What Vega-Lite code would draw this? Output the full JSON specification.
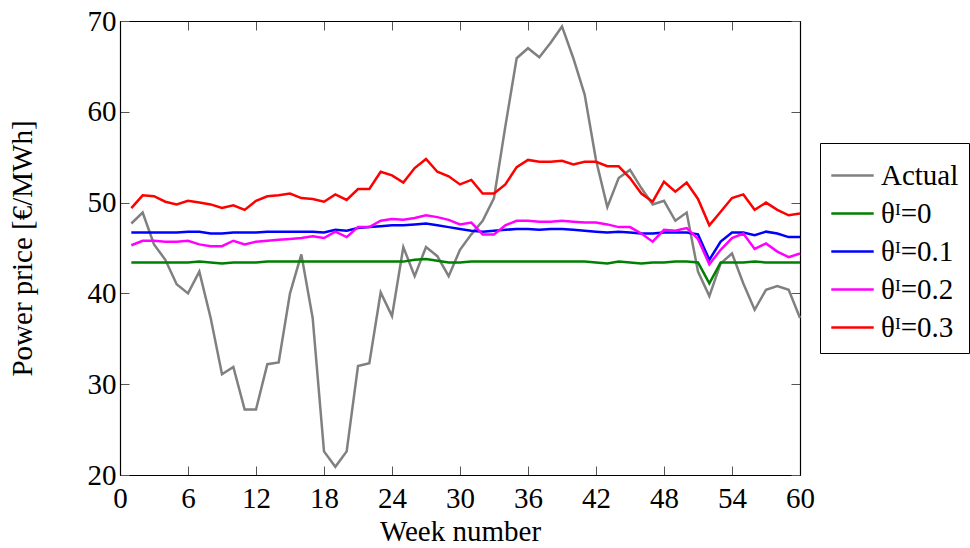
{
  "$schema": "https://vega.github.io/schema/vega-lite/v6.json",
  "width": 680,
  "height": 454,
  "autosize": {"type": "none"},
  "padding": {"left": 120, "top": 21, "right": 170, "bottom": 73},
  "background": "white",
  "config": {
    "font": "Liberation Serif",
    "view": {"stroke": "black", "strokeWidth": 1},
    "axis": {"grid": false, "domainColor": "black", "domainWidth": 1.2, "tickColor": "#555", "labelColor": "black", "titleColor": "black", "labelFont": "Liberation Serif", "titleFont": "Liberation Serif", "titleFontWeight": "normal", "labelFontSize": 29, "titleFontSize": 29, "labelFlush": false}
  },
  "data": {"values": [
    {"week":1,"Actual":47.7,"t0":43.4,"t1":46.7,"t2":45.3,"t3":49.4},
    {"week":2,"Actual":48.9,"t0":43.4,"t1":46.7,"t2":45.8,"t3":50.8},
    {"week":3,"Actual":45.4,"t0":43.4,"t1":46.7,"t2":45.8,"t3":50.7},
    {"week":4,"Actual":43.7,"t0":43.4,"t1":46.7,"t2":45.7,"t3":50.1},
    {"week":5,"Actual":41.0,"t0":43.4,"t1":46.7,"t2":45.7,"t3":49.8},
    {"week":6,"Actual":40.0,"t0":43.4,"t1":46.8,"t2":45.8,"t3":50.2},
    {"week":7,"Actual":42.4,"t0":43.5,"t1":46.8,"t2":45.4,"t3":50.0},
    {"week":8,"Actual":37.3,"t0":43.4,"t1":46.6,"t2":45.2,"t3":49.8},
    {"week":9,"Actual":31.1,"t0":43.3,"t1":46.6,"t2":45.2,"t3":49.4},
    {"week":10,"Actual":31.9,"t0":43.4,"t1":46.7,"t2":45.8,"t3":49.7},
    {"week":11,"Actual":27.2,"t0":43.4,"t1":46.7,"t2":45.4,"t3":49.2},
    {"week":12,"Actual":27.2,"t0":43.4,"t1":46.7,"t2":45.7,"t3":50.2},
    {"week":13,"Actual":32.2,"t0":43.5,"t1":46.8,"t2":45.8,"t3":50.7},
    {"week":14,"Actual":32.4,"t0":43.5,"t1":46.8,"t2":45.9,"t3":50.8},
    {"week":15,"Actual":40.0,"t0":43.5,"t1":46.8,"t2":46.0,"t3":51.0},
    {"week":16,"Actual":44.3,"t0":43.5,"t1":46.8,"t2":46.1,"t3":50.5},
    {"week":17,"Actual":37.3,"t0":43.5,"t1":46.8,"t2":46.3,"t3":50.4},
    {"week":18,"Actual":22.6,"t0":43.5,"t1":46.7,"t2":46.1,"t3":50.1},
    {"week":19,"Actual":20.9,"t0":43.5,"t1":47.0,"t2":46.8,"t3":50.9},
    {"week":20,"Actual":22.6,"t0":43.5,"t1":46.9,"t2":46.2,"t3":50.3},
    {"week":21,"Actual":32.0,"t0":43.5,"t1":47.2,"t2":47.3,"t3":51.5},
    {"week":22,"Actual":32.3,"t0":43.5,"t1":47.3,"t2":47.3,"t3":51.5},
    {"week":23,"Actual":40.1,"t0":43.5,"t1":47.4,"t2":48.0,"t3":53.4},
    {"week":24,"Actual":37.5,"t0":43.5,"t1":47.5,"t2":48.2,"t3":53.0},
    {"week":25,"Actual":45.1,"t0":43.5,"t1":47.5,"t2":48.1,"t3":52.2},
    {"week":26,"Actual":41.9,"t0":43.7,"t1":47.6,"t2":48.3,"t3":53.8},
    {"week":27,"Actual":45.1,"t0":43.8,"t1":47.7,"t2":48.6,"t3":54.8},
    {"week":28,"Actual":44.1,"t0":43.6,"t1":47.5,"t2":48.4,"t3":53.4},
    {"week":29,"Actual":41.9,"t0":43.4,"t1":47.3,"t2":48.1,"t3":52.9},
    {"week":30,"Actual":44.8,"t0":43.4,"t1":47.1,"t2":47.6,"t3":52.0},
    {"week":31,"Actual":46.5,"t0":43.5,"t1":46.9,"t2":47.8,"t3":52.5},
    {"week":32,"Actual":48.0,"t0":43.5,"t1":46.8,"t2":46.5,"t3":51.0},
    {"week":33,"Actual":50.5,"t0":43.5,"t1":46.9,"t2":46.5,"t3":51.0},
    {"week":34,"Actual":58.4,"t0":43.5,"t1":47.0,"t2":47.5,"t3":52.0},
    {"week":35,"Actual":65.9,"t0":43.5,"t1":47.1,"t2":48.0,"t3":53.9},
    {"week":36,"Actual":67.0,"t0":43.5,"t1":47.1,"t2":48.0,"t3":54.7},
    {"week":37,"Actual":66.0,"t0":43.5,"t1":47.0,"t2":47.9,"t3":54.5},
    {"week":38,"Actual":67.6,"t0":43.5,"t1":47.1,"t2":47.9,"t3":54.5},
    {"week":39,"Actual":69.4,"t0":43.5,"t1":47.1,"t2":48.0,"t3":54.6},
    {"week":40,"Actual":65.9,"t0":43.5,"t1":47.0,"t2":47.9,"t3":54.2},
    {"week":41,"Actual":61.9,"t0":43.5,"t1":46.9,"t2":47.8,"t3":54.5},
    {"week":42,"Actual":54.7,"t0":43.4,"t1":46.8,"t2":47.8,"t3":54.5},
    {"week":43,"Actual":49.5,"t0":43.3,"t1":46.7,"t2":47.6,"t3":54.0},
    {"week":44,"Actual":52.7,"t0":43.5,"t1":46.8,"t2":47.3,"t3":54.0},
    {"week":45,"Actual":53.6,"t0":43.4,"t1":46.7,"t2":47.3,"t3":52.7},
    {"week":46,"Actual":51.6,"t0":43.3,"t1":46.6,"t2":46.6,"t3":51.0},
    {"week":47,"Actual":49.8,"t0":43.4,"t1":46.6,"t2":45.7,"t3":50.1},
    {"week":48,"Actual":50.2,"t0":43.4,"t1":46.7,"t2":47.0,"t3":52.3},
    {"week":49,"Actual":48.0,"t0":43.5,"t1":46.7,"t2":46.9,"t3":51.2},
    {"week":50,"Actual":48.9,"t0":43.5,"t1":46.7,"t2":47.2,"t3":52.2},
    {"week":51,"Actual":42.4,"t0":43.4,"t1":46.5,"t2":46.0,"t3":50.4},
    {"week":52,"Actual":39.7,"t0":41.1,"t1":43.7,"t2":43.2,"t3":47.5},
    {"week":53,"Actual":43.3,"t0":43.4,"t1":45.7,"t2":44.8,"t3":49.0},
    {"week":54,"Actual":44.4,"t0":43.4,"t1":46.7,"t2":46.1,"t3":50.5},
    {"week":55,"Actual":41.1,"t0":43.4,"t1":46.7,"t2":46.6,"t3":50.9},
    {"week":56,"Actual":38.2,"t0":43.5,"t1":46.4,"t2":44.9,"t3":49.2},
    {"week":57,"Actual":40.4,"t0":43.4,"t1":46.8,"t2":45.5,"t3":50.0},
    {"week":58,"Actual":40.8,"t0":43.4,"t1":46.6,"t2":44.6,"t3":49.2},
    {"week":59,"Actual":40.4,"t0":43.4,"t1":46.2,"t2":44.0,"t3":48.6},
    {"week":60,"Actual":37.3,"t0":43.4,"t1":46.2,"t2":44.4,"t3":48.8}
  ]},
  "transform": [{"fold": ["Actual", "t0", "t1", "t2", "t3"], "as": ["series", "price"]}],
  "layer": [
    {
      "mark": {"type": "line", "strokeWidth": 2.5},
      "encoding": {
        "x": {"field": "week", "type": "quantitative", "scale": {"domain": [0, 60], "nice": false},
              "axis": {"values": [0,6,12,18,24,30,36,42,48,54,60], "title": "Week number", "tickSize": -9, "labelPadding": 18, "titlePadding": 4}},
        "y": {"field": "price", "type": "quantitative", "scale": {"domain": [20, 70], "nice": false, "zero": false},
              "axis": {"values": [20,30,40,50,60,70], "title": "Power price [€/MWh]", "tickSize": -9, "labelPadding": 13, "titlePadding": 50}},
        "color": {"field": "series", "type": "nominal",
          "scale": {"domain": ["Actual", "t0", "t1", "t2", "t3"], "range": ["#808080", "#008000", "#0000ff", "#ff00ff", "#ff0000"]},
          "legend": {"title": null, "orient": "none", "legendX": 700, "legendY": 122,
            "symbolType": "stroke", "symbolSize": 1800, "symbolStrokeWidth": 2.5,
            "labelFont": "Liberation Serif", "labelFontSize": 29, "labelColor": "black",
            "fillColor": "white", "strokeColor": "black", "padding": 10, "rowPadding": 0, "labelOffset": 6,
            "labelExpr": "datum.label == 'Actual' ? 'Actual' : datum.label == 't0' ? 'θᴵ=0' : datum.label == 't1' ? 'θᴵ=0.1' : datum.label == 't2' ? 'θᴵ=0.2' : 'θᴵ=0.3'"}}
      }
    },
    {
      "mark": {"type": "line", "opacity": 0},
      "encoding": {
        "x": {"field": "week", "type": "quantitative", "axis": {"orient": "top", "values": [0,6,12,18,24,30,36,42,48,54,60], "labels": false, "title": null, "tickSize": -9}},
        "y": {"field": "price", "type": "quantitative", "axis": {"orient": "right", "values": [20,30,40,50,60,70], "labels": false, "title": null, "tickSize": -9}},
        "detail": {"field": "series"}
      }
    }
  ],
  "resolve": {"axis": {"x": "independent", "y": "independent"}}
}
